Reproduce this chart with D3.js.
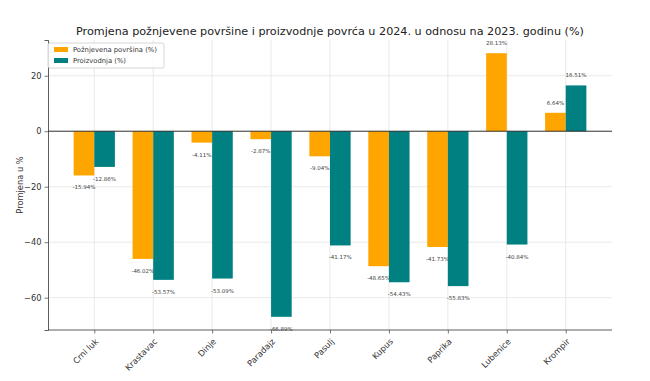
<!DOCTYPE html>
<meta charset="utf-8">
<head>
<style>
  body { margin: 0; background: #fff; }
  text { font-family: "DejaVu Sans", sans-serif; }
</style>
</head>
<script src="https://d3js.org/d3.v7.min.js"></script>
<body>
<div id="my_dataviz"></div>
<script>
// data
var categories = ["Crni luk", "Krastavac", "Dinje", "Paradajz", "Pasulj", "Kupus", "Paprika", "Lubenice", "Krompir"];
var povrsina = [-15.94, -46.02, -4.11, -2.87, -9.04, -48.65, -41.73, 28.13, 6.64];
var proizvodnja = [-12.86, -53.57, -53.09, -66.89, -41.17, -54.43, -55.83, -40.84, 16.51];
var yTicks = [20, 0, -20, -40, -60];
var seriesNames = ["Požnjevena površina (%)", "Proizvodnja (%)"];
var colors = ["#FFA500", "#008080"];

var W = 650, H = 381;
var margin = {top: 40, right: 38, bottom: 51, left: 48},
    width = W - margin.left - margin.right,
    height = H - margin.top - margin.bottom;

var svgRoot = d3.select("#my_dataviz")
  .append("svg")
    .attr("width", W)
    .attr("height", H);

var svg = svgRoot.append("g")
    .attr("transform", "translate(" + margin.left + "," + margin.top + ")");

// x as index scale, like matplotlib bar positions
var barW = 0.35;
var x = d3.scaleLinear()
    .domain([-0.785, categories.length - 1 + 0.785])
    .range([0, width]);

var allVals = povrsina.concat(proizvodnja);
var yMin = d3.min(allVals), yMax = d3.max(allVals);
var pad = (yMax - yMin) * 0.05;
var y = d3.scaleLinear()
    .domain([yMin - pad, yMax + pad])
    .range([height, 0]);

// grid
svg.append("g")
  .selectAll("line")
  .data(yTicks)
  .enter().append("line")
    .attr("x1", 0).attr("x2", width)
    .attr("y1", d => y(d)).attr("y2", d => y(d))
    .style("stroke", "#e3e3e3").style("stroke-width", 0.8);

svg.append("g")
  .selectAll("line")
  .data(categories)
  .enter().append("line")
    .attr("x1", (d, i) => x(i)).attr("x2", (d, i) => x(i))
    .attr("y1", 0).attr("y2", height)
    .style("stroke", "#e3e3e3").style("stroke-width", 0.8);

// bars
var series = [povrsina, proizvodnja];
series.forEach(function(vals, s) {
  svg.append("g")
    .selectAll("rect")
    .data(vals)
    .enter().append("rect")
      .attr("x", (d, i) => x(i - barW + s * barW))
      .attr("width", x(barW) - x(0))
      .attr("y", d => y(Math.max(0, d)))
      .attr("height", d => Math.abs(y(d) - y(0)))
      .style("fill", colors[s]);

  svg.append("g")
    .selectAll("text")
    .data(vals)
    .enter().append("text")
      .attr("x", (d, i) => x(i - barW / 2 + s * barW))
      .attr("y", d => d >= 0 ? y(d) - 8 : y(d) + 14)
      .attr("text-anchor", "middle")
      .style("font-size", "5.5px")
      .style("fill", "#444")
      .text(d => d.toFixed(2) + "%");
});

// zero line
svg.append("line")
  .attr("x1", 0).attr("x2", width)
  .attr("y1", y(0)).attr("y2", y(0))
  .style("stroke", "#222").style("stroke-width", 0.9);

// axes
var yAxis = svg.append("g")
  .call(d3.axisLeft(y).tickValues(yTicks).tickSize(3.5).tickPadding(3)
        .tickFormat(d => d < 0 ? "\u2212" + Math.abs(d) : d));
yAxis.select(".domain").style("stroke", "#333").style("stroke-width", 0.8);
yAxis.selectAll(".tick line").style("stroke", "#555").style("stroke-width", 0.8);
yAxis.selectAll("text").style("font-size", "8.3px").style("fill", "#333")
  .style("font-family", "DejaVu Sans");

var xAxis = svg.append("g")
  .attr("transform", "translate(0," + height + ")")
  .call(d3.axisBottom(x).tickValues(d3.range(categories.length)).tickSize(3.5)
        .tickFormat(i => categories[i]));
xAxis.select(".domain").attr("d", "M0.5,0H" + width).style("stroke", "#333").style("stroke-width", 0.8);
xAxis.selectAll(".tick line").style("stroke", "#555").style("stroke-width", 0.8);
xAxis.selectAll("text")
  .style("font-size", "8.3px").style("fill", "#333").style("font-family", "DejaVu Sans")
  .attr("text-anchor", "end")
  .attr("dy", "0.35em")
  .attr("transform", "translate(2,10) rotate(-45)")
  .attr("y", 0).attr("x", 0);

// y label
svgRoot.append("text")
  .attr("transform", "translate(20," + (margin.top + height / 2) + ") rotate(-90)")
  .attr("text-anchor", "middle")
  .attr("dy", "0.35em")
  .style("font-size", "8.3px").style("fill", "#333")
  .text("Promjena u %");

// title
svgRoot.append("text")
  .attr("x", margin.left + width / 2)
  .attr("y", 35)
  .attr("text-anchor", "middle")
  .style("font-size", "11.2px").style("fill", "#222")
  .text("Promjena požnjevene površine i proizvodnje povrća u 2024. u odnosu na 2023. godinu (%)");

// legend
var lg = svgRoot.append("g").attr("transform", "translate(48,43)");
lg.append("rect")
  .attr("width", 116).attr("height", 25).attr("rx", 2)
  .style("fill", "#fff").style("fill-opacity", 0.85)
  .style("stroke", "#ccc").style("stroke-width", 0.8);
seriesNames.forEach(function(name, s) {
  lg.append("rect")
    .attr("x", 6).attr("y", 4 + s * 11)
    .attr("width", 14).attr("height", 5)
    .style("fill", colors[s]);
  lg.append("text")
    .attr("x", 25).attr("y", 6.5 + s * 11)
    .attr("dy", "0.35em")
    .style("font-size", "6.8px").style("fill", "#333")
    .text(name);
});
</script>
</body>
